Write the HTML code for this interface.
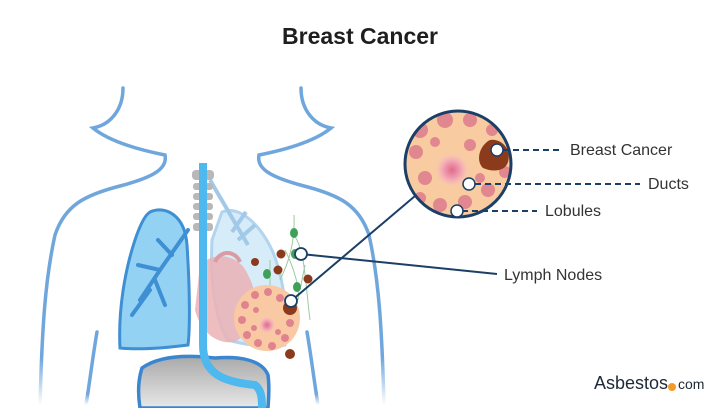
<!DOCTYPE html>
<html><head><meta charset="utf-8"><style>
html,body{margin:0;padding:0;background:#fff;width:720px;height:408px;overflow:hidden}
svg{display:block}
text{font-family:"Liberation Sans",sans-serif}
</style></head><body>
<svg width="720" height="408" viewBox="0 0 720 408">
<defs>
<linearGradient id="fadeL" x1="0" y1="0" x2="0" y2="1"><stop offset="0.85" stop-color="#6fa6dc"/><stop offset="1" stop-color="#6fa6dc" stop-opacity="0"/></linearGradient>
<linearGradient id="liver" x1="0" y1="0" x2="0" y2="1"><stop offset="0" stop-color="#a9a9a9"/><stop offset="1" stop-color="#e8e8e8"/></linearGradient>
<radialGradient id="nip"><stop offset="0" stop-color="#e06a8a"/><stop offset="0.5" stop-color="#f2a3b3"/><stop offset="1" stop-color="#f9c9c0" stop-opacity="0"/></radialGradient>
<clipPath id="bc"><circle cx="458" cy="164" r="53"/></clipPath>
<clipPath id="sc"><circle cx="267" cy="318" r="33"/></clipPath>
</defs>
<text x="360" y="44" text-anchor="middle" font-size="23" font-weight="bold" fill="#1e1e1e">Breast Cancer</text>

<g fill="none" stroke="#7aaedf" stroke-width="3.5" stroke-linecap="round">
<path d="M123,88 C123,110 110,125 93,128 C110,142 140,150 165,155 C168,170 150,178 120,186 C85,195 65,205 55,235 C45,280 42,330 40,405" stroke="url(#fadeL)"/>
<path d="M301,88 C301,110 314,125 331,128 C314,142 284,150 259,155 C256,170 274,178 304,186 C339,195 359,205 369,235 C379,280 382,330 384,405" stroke="url(#fadeL)"/>
<path d="M97,332 C93,355 90,380 86,405" stroke="url(#fadeL)"/>
<path d="M307,332 C311,355 314,380 318,405" stroke="url(#fadeL)"/>
</g>

<path d="M222,212 C240,205 260,225 272,250 C285,280 288,320 285,345 C270,348 245,345 228,340 C215,320 210,280 212,240 Z" fill="#d6ecf9" stroke="#b2d4ee" stroke-width="3"/>
<path d="M210,180 L248,245 M232,232 L246,212 M238,240 L255,225" stroke="#a3c9e8" stroke-width="4" fill="none"/>
<path d="M200,265 C215,250 240,255 248,275 C262,300 255,330 235,342 C215,345 200,330 195,310 Z" fill="#eab2b5" opacity="0.85"/>
<path d="M215,262 C220,250 235,250 240,262" stroke="#d99ca4" stroke-width="4" fill="none"/>
<path d="M150,212 C165,205 185,215 187,245 C190,290 190,330 188,345 C165,348 140,350 120,348 C118,310 125,270 135,240 C140,225 145,215 150,212 Z" fill="#93d2f3" stroke="#3f8fd4" stroke-width="3"/>
<path d="M188,230 L160,270 L140,300 M160,270 L138,265 M155,280 L165,305 M150,290 L132,315 M172,255 L158,240" stroke="#3f8fd4" stroke-width="4" fill="none" stroke-linecap="round"/>
<g fill="#b8b8b8"><rect x="192" y="170" width="22" height="10" rx="4"/><rect x="193" y="183" width="20" height="7" rx="3"/><rect x="193" y="193" width="20" height="7" rx="3"/><rect x="193" y="203" width="20" height="7" rx="3"/><rect x="193" y="213" width="20" height="7" rx="3"/><rect x="193" y="223" width="20" height="8" rx="3"/></g>
<path d="M142,368 C160,355 190,355 215,358 C240,356 262,360 268,375 C270,390 268,405 268,408 L140,408 C138,395 138,380 142,368 Z" fill="url(#liver)" stroke="#3a86d0" stroke-width="3.5"/>
<path d="M203,163 L203,345 C203,375 225,382 255,385 C262,390 262,400 262,408" stroke="#4eb9ee" stroke-width="8" fill="none"/>

<g stroke="#9cc9a3" stroke-width="1" fill="none"><path d="M294,215 C295,240 290,260 280,280 M294,235 C305,250 305,280 310,320 M270,285 L270,260 M305,265 L300,290 M285,250 C295,270 300,290 298,300"/></g>
<g fill="#3fa05a"><ellipse cx="294" cy="233" rx="4" ry="5"/><ellipse cx="295" cy="254" rx="4" ry="5"/><ellipse cx="267" cy="274" rx="4" ry="5"/><ellipse cx="297" cy="287" rx="4" ry="5"/></g>
<g fill="#8c3a1c"><circle cx="281" cy="254" r="4.5"/><circle cx="278" cy="270" r="4.5"/><circle cx="308" cy="279" r="4.5"/><circle cx="255" cy="262" r="4"/><circle cx="290" cy="354" r="5"/></g>
<circle cx="267" cy="318" r="33" fill="#f9c9a3"/>
<g clip-path="url(#sc)" fill="#e1838f">
<circle cx="267" cy="325" r="9" fill="url(#nip)"/>
<circle cx="255" cy="295" r="4"/><circle cx="245" cy="305" r="4"/><circle cx="242" cy="320" r="4"/><circle cx="247" cy="335" r="4"/><circle cx="258" cy="343" r="4"/><circle cx="272" cy="346" r="4"/><circle cx="285" cy="338" r="4"/><circle cx="290" cy="323" r="4"/><circle cx="268" cy="292" r="4"/><circle cx="280" cy="298" r="4"/><circle cx="256" cy="310" r="3"/><circle cx="254" cy="328" r="3"/><circle cx="278" cy="332" r="3"/>
</g>
<circle cx="290" cy="308" r="7" fill="#8c3a1c"/>

<g stroke="#1b3f66" stroke-width="2" fill="none">
<line x1="301" y1="254" x2="497" y2="274"/>
<line x1="291" y1="301" x2="415" y2="196"/>
</g>
<circle cx="301" cy="254" r="6" fill="#fff" stroke="#1b3f66" stroke-width="1.8"/>
<circle cx="291" cy="301" r="6" fill="#fff" stroke="#1b3f66" stroke-width="1.8"/>
<text x="504" y="280" font-size="16" fill="#333">Lymph Nodes</text>

<circle cx="458" cy="164" r="53" fill="#f9cba1"/>
<g clip-path="url(#bc)">
<circle cx="452" cy="170" r="18" fill="url(#nip)"/>
<g fill="#e1878f">
<circle cx="420" cy="130" r="8"/><circle cx="445" cy="120" r="8"/><circle cx="470" cy="120" r="7"/><circle cx="492" cy="130" r="6"/><circle cx="416" cy="152" r="7"/><circle cx="425" cy="178" r="7"/><circle cx="420" cy="198" r="6"/><circle cx="440" cy="205" r="7"/><circle cx="465" cy="202" r="7"/><circle cx="488" cy="190" r="7"/><circle cx="505" cy="172" r="6"/><circle cx="470" cy="145" r="6"/><circle cx="435" cy="142" r="5"/><circle cx="480" cy="178" r="5"/>
</g>
<path d="M490,140 C500,138 512,148 508,162 C505,172 492,172 483,168 C475,160 480,145 490,140 Z" fill="#8c3a1c"/>
</g>
<circle cx="458" cy="164" r="53" fill="none" stroke="#1b3f66" stroke-width="3"/>

<g stroke="#1b3f66" stroke-width="2" stroke-dasharray="6,4" fill="none">
<line x1="503" y1="150" x2="562" y2="150"/>
<line x1="475" y1="184" x2="640" y2="184"/>
<line x1="462" y1="211" x2="537" y2="211"/>
</g>
<circle cx="497" cy="150" r="6" fill="#fff" stroke="#1b3f66" stroke-width="1.5"/>
<circle cx="469" cy="184" r="6" fill="#fff" stroke="#1b3f66" stroke-width="1.5"/>
<circle cx="457" cy="211" r="6" fill="#fff" stroke="#1b3f66" stroke-width="1.5"/>
<text x="570" y="155" font-size="16" fill="#333">Breast Cancer</text>
<text x="648" y="189" font-size="16" fill="#333">Ducts</text>
<text x="545" y="216" font-size="16" fill="#333">Lobules</text>

<text x="594" y="389" font-size="18" fill="#1e2a36">Asbestos</text>
<circle cx="672" cy="387" r="4" fill="#f39a2b"/>
<text x="678" y="389" font-size="14" fill="#1e2a36">com</text>
</svg>
</body></html>
